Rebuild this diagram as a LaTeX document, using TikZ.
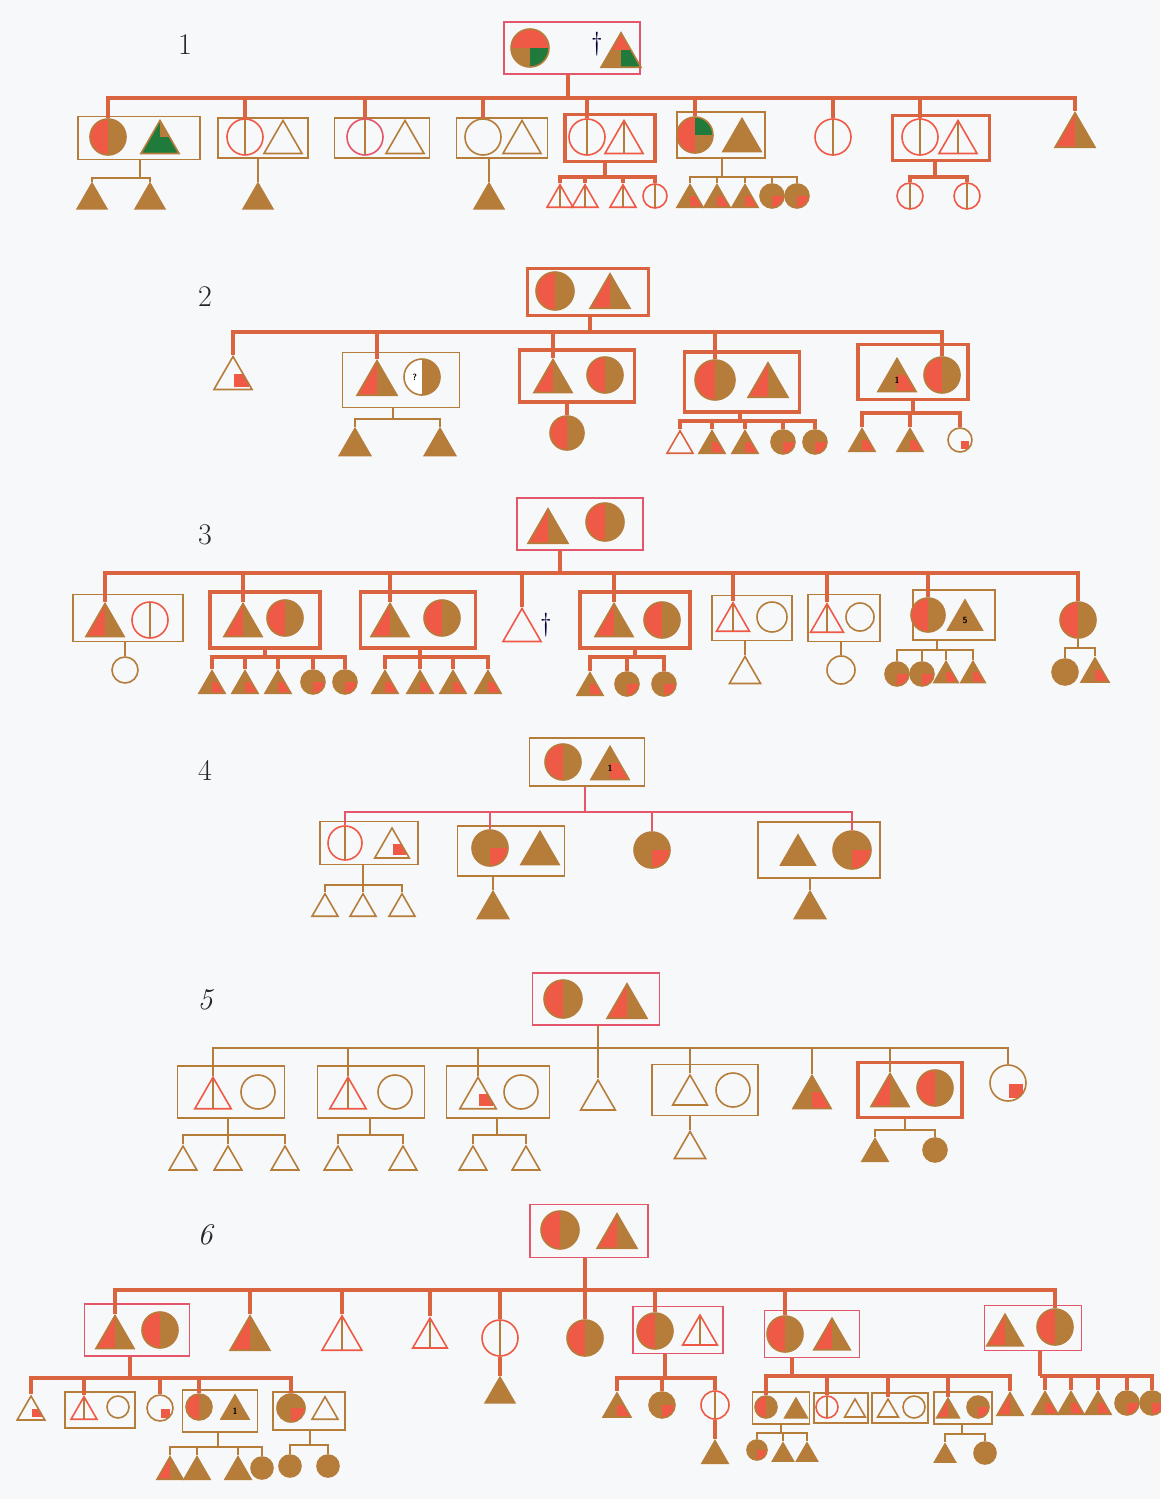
\documentclass[tikz,border=0pt]{standalone}
\usepackage{tikz}
\usetikzlibrary{
	shapes.geometric,           % For triangles (regular polygon)
	calc
}
\definecolor{cred}{HTML}{EF5A46}
\definecolor{cbrn}{HTML}{B67D3A}
\definecolor{cgrn}{HTML}{1F7A3C}
\definecolor{cln}{HTML}{D9643F}
\definecolor{cpnk}{HTML}{E4566A}
\definecolor{cbg}{HTML}{F7F8FA}

\tikzset{
	per/.style={inner sep=0pt, line width=1.6pt, draw=cbrn, text=black,
		font=\sffamily\bfseries\fontsize{9}{9}\selectfont},
	fem/.style={per, circle, minimum size=#1},
	fem/.default=36,
	mal/.style={per, regular polygon, regular polygon sides=3, minimum size=#1, yshift=-#1/8},
	mal/.default=44,
	quad/.style n args={4}{path picture={
			\fill[#1] (path picture bounding box.north west) rectangle (path picture bounding box.center);
			\fill[#2] (path picture bounding box.north east) rectangle (path picture bounding box.center);
			\fill[#3] (path picture bounding box.south west) rectangle (path picture bounding box.center);
			\fill[#4] (path picture bounding box.south east) rectangle (path picture bounding box.center);}},
	rb/.style={quad={cred}{cbrn}{cred}{cbrn}},
	br/.style={quad={cbrn}{cbrn}{cbrn}{cred}},
	bn/.style={fill=cbrn},
	ol/.style={draw=cred, path picture={
			\draw[cbrn, line width=1.4pt] (path picture bounding box.north) -- (path picture bounding box.south);}},
	oq/.style={path picture={
			\fill[cred] ([xshift=1pt,yshift=-1pt]path picture bounding box.center) rectangle ([xshift=-3pt,yshift=3pt]path picture bounding box.south east);}},
	bx/.style 2 args={rectangle, minimum width=#1, minimum height=#2, inner sep=0pt},
	rbox/.style={draw=cln, line width=3.5pt},
	tbox/.style={draw=cpnk, line width=1.8pt},
	bbox/.style={draw=cbrn, line width=1.8pt},
	tl/.style={draw=cln, line width=3.5pt},
	nl/.style={draw=cbrn, line width=1.6pt},
	pl/.style={draw=cpnk, line width=1.6pt},
	lab/.style={font=\fontsize{30}{30}\selectfont, text=black!85},
	dag/.style={font=\fontsize{26}{26}\selectfont, text=black!80!blue}
}

% stem from a parent (box) down to the bar, then a drop to every child
\newcommand\sib[4]{%
	\draw[#1] (#2.south -| #3) -- (#3);
	\foreach \kk in {#4} \draw[#1] (#3) -| (\kk.north);
}

\begin{document}
\begin{tikzpicture}[x=1pt, y=-1pt]
	\useasboundingbox (0,0) rectangle (1160,1499);
	\fill[cbg] (0,0) rectangle (1160,1499);
	
	% Family 1
	\node[lab] (n1) at (185,45) {1};
	\node[tbox, bx={136}{52}] (P1) at (572,48) {};
	\node[fem=38, quad={cred}{cred}{cbrn}{cgrn}] (p1m) at (530,48) {};
	\node[dag] (x1) at (597,44) {\textdagger};
	\node[mal=46, quad={cred}{cred}{cbrn}{cgrn}] (p1f) at (621,50) {};
	\coordinate (b1) at (568,98);
	
	\node[bbox, bx={122}{43}] (B11) at (139,138) {};
	\node[fem, rb] (k11) at (108,137) {};
	\node[mal, quad={cgrn}{cbrn}{cgrn}{cgrn}] (s11) at (160,137) {};
	\node[bbox, bx={90}{40}] (B12) at (263,138) {};
	\node[fem, ol] (k12) at (245,137) {};
	\node[mal] (s12) at (283,137) {};
	\node[bbox, bx={95}{40}] (B13) at (382,138) {};
	\node[fem, ol, draw=cpnk] (k13) at (365,137) {};
	\node[mal] (s13) at (405,137) {};
	\node[bbox, bx={91}{40}] (B14) at (502,138) {};
	\node[fem] (k14) at (483,137) {};
	\node[mal] (s14) at (522,137) {};
	\node[rbox, bx={90}{47}] (B15) at (610,138) {};
	\node[fem, ol] (k15) at (587,137) {};
	\node[mal, ol] (s15) at (624,137) {};
	\node[bbox, bx={88}{46}] (B16) at (721,135) {};
	\node[fem, quad={cred}{cgrn}{cred}{cbrn}] (k16) at (695,135) {};
	\node[mal, bn] (s16) at (742,135) {};
	\node[fem, ol] (k17) at (833,137) {};
	\node[rbox, bx={97}{45}] (B18) at (941,138) {};
	\node[fem, ol] (k18) at (920,137) {};
	\node[mal, ol] (s18) at (958,137) {};
	\node[mal=46, rb] (k19) at (1075,130) {};
	\sib{tl}{P1}{b1}{k11,k12,k13,k14,k15,k16,k17,k18,k19}
	
	\coordinate (b11) at (140,178);
	\node[mal=34, bn] (g11-1) at (92,196) {};
	\node[mal=34, bn] (g11-2) at (150,196) {};
	\sib{nl}{B11}{b11}{g11-1,g11-2}
	\node[mal=34, bn] (g12) at (258,196) {};
	\draw[nl] (B12.south -| g12.north) -- (g12.north);
	\node[mal=34, bn] (g14) at (489,196) {};
	\draw[nl] (B14.south -| g14.north) -- (g14.north);
	\coordinate (b15) at (605,177);
	\node[mal=30, ol] (g15-1) at (560,196) {};
	\node[mal=30, ol] (g15-2) at (585,196) {};
	\node[mal=30, ol] (g15-3) at (623,196) {};
	\node[fem=24, ol] (g15-4) at (655,196) {};
	\sib{tl}{B15}{b15}{g15-1,g15-2,g15-3,g15-4}
	\coordinate (b16) at (722,177);
	\node[mal=30, br] (g16-1) at (690,196) {};
	\node[mal=30, br] (g16-2) at (717,196) {};
	\node[mal=30, br] (g16-3) at (745,196) {};
	\node[fem=24, br] (g16-4) at (772,196) {};
	\node[fem=24, br] (g16-5) at (797,196) {};
	\sib{nl}{B16}{b16}{g16-1,g16-2,g16-3,g16-4,g16-5}
	\coordinate (b18) at (935,177);
	\node[fem=26, ol] (g18-1) at (910,196) {};
	\node[fem=26, ol] (g18-2) at (967,196) {};
	\sib{tl}{B18}{b18}{g18-1,g18-2}
	
	% Family 2
	\node[lab] (n2) at (205,297) {2};
	\node[rbox, bx={121}{47}] (P2) at (588,292) {};
	\node[fem=38, rb] (p2m) at (555,291) {};
	\node[mal=46, rb] (p2f) at (610,291) {};
	\coordinate (b2) at (590,332);
	
	\node[mal, oq] (k21) at (233,373) {};
	\node[bbox, bx={117}{55}] (B22) at (401,380) {};
	\node[mal=46, rb] (k22) at (377,378) {};
	\node[fem, quad={white}{cbrn}{white}{cbrn}] (s22) at (422,377) {\makebox[0pt][r]{?\hspace{5pt}}};
	\node[rbox, bx={115}{52}] (B23) at (577,376) {};
	\node[mal, rb] (k23) at (553,376) {};
	\node[fem, rb] (s23) at (605,375) {};
	\node[rbox, bx={115}{60}] (B24) at (742,382) {};
	\node[fem=40, rb] (k24) at (715,380) {};
	\node[mal=46, rb] (s24) at (768,380) {};
	\node[rbox, bx={110}{55}] (B25) at (913,372) {};
	\node[mal, br] (s25) at (897,375) {1};
	\node[fem, rb] (k25) at (942,375) {};
	\sib{tl}{P2}{b2}{k21,k22,k23,k24,k25}
	
	\coordinate (b22) at (393,419);
	\node[mal=36, bn] (g22-1) at (355,442) {};
	\node[mal=36, bn] (g22-2) at (440,442) {};
	\sib{nl}{B22}{b22}{g22-1,g22-2}
	\node[fem=34, rb] (g23) at (567,433) {};
	\draw[tl] (B23.south -| g23.north) -- (g23.north);
	\coordinate (b24) at (740,421);
	\node[mal=30, draw=cln] (g24-1) at (680,442) {};
	\node[mal=30, br] (g24-2) at (712,442) {};
	\node[mal=30, br] (g24-3) at (745,442) {};
	\node[fem=24, br] (g24-4) at (783,442) {};
	\node[fem=24, br] (g24-5) at (815,442) {};
	\sib{tl}{B24}{b24}{g24-1,g24-2,g24-3,g24-4,g24-5}
	\coordinate (b25) at (913,413);
	\node[mal=30, br] (g25-1) at (862,440) {};
	\node[mal=30, br] (g25-2) at (910,440) {};
	\node[fem=24, oq] (g25-3) at (960,440) {};
	\sib{tl}{B25}{b25}{g25-1,g25-2,g25-3}
	
	% Family 3
	\node[lab] (n3) at (205,535) {3};
	\node[tbox, bx={126}{52}] (P3) at (580,524) {};
	\node[mal=46, rb] (p3f) at (548,526) {};
	\node[fem=38, rb] (p3m) at (605,522) {};
	\coordinate (b3) at (560,573);
	
	\node[bbox, bx={110}{47}] (B31) at (128,618) {};
	\node[mal, rb] (k31) at (105,620) {};
	\node[fem, ol] (s31) at (150,620) {};
	\node[rbox, bx={110}{56}] (B32) at (265,620) {};
	\node[mal, rb] (k32) at (243,620) {};
	\node[fem, rb] (s32) at (285,618) {};
	\node[rbox, bx={115}{56}] (B33) at (418,620) {};
	\node[mal, rb] (k33) at (390,620) {};
	\node[fem, rb] (s33) at (442,618) {};
	\node[mal, draw=cred] (k34) at (522,625) {};
	\node[dag] (x3) at (546,625) {\textdagger};
	\node[rbox, bx={110}{56}] (B35) at (635,620) {};
	\node[mal, rb] (k35) at (614,620) {};
	\node[fem, rb] (s35) at (662,620) {};
	\node[bbox, bx={80}{45}] (B36) at (752,618) {};
	\node[mal=38, ol] (k36) at (733,617) {};
	\node[fem=30] (s36) at (772,617) {};
	\node[bbox, bx={72}{47}] (B37) at (844,618) {};
	\node[mal=38, ol] (k37) at (827,618) {};
	\node[fem=28] (s37) at (860,617) {};
	\node[bbox, bx={82}{50}] (B38) at (954,615) {};
	\node[fem=34, rb] (k38) at (928,615) {};
	\node[mal=40, bn] (s38) at (965,615) {5};
	\node[fem, rb] (k39) at (1078,620) {};
	\sib{tl}{P3}{b3}{k31,k32,k33,k34,k35,k36,k37,k38,k39}
	
	\node[fem=26] (g31) at (125,670) {};
	\draw[nl] (B31.south -| g31.north) -- (g31.north);
	\coordinate (b32) at (265,657);
	\node[mal=30, br] (g32-1) at (212,682) {};
	\node[mal=30, br] (g32-2) at (245,682) {};
	\node[mal=30, br] (g32-3) at (278,682) {};
	\node[fem=24, br] (g32-4) at (313,682) {};
	\node[fem=24, br] (g32-5) at (345,682) {};
	\sib{tl}{B32}{b32}{g32-1,g32-2,g32-3,g32-4,g32-5}
	\coordinate (b33) at (420,657);
	\node[mal=30, br] (g33-1) at (385,682) {};
	\node[mal=30, br] (g33-2) at (420,682) {};
	\node[mal=30, br] (g33-3) at (453,682) {};
	\node[mal=30, br] (g33-4) at (488,682) {};
	\sib{tl}{B33}{b33}{g33-1,g33-2,g33-3,g33-4}
	\coordinate (b35) at (635,657);
	\node[mal=30, br] (g35-1) at (590,684) {};
	\node[fem=24, br] (g35-2) at (627,684) {};
	\node[fem=24, br] (g35-3) at (664,684) {};
	\sib{tl}{B35}{b35}{g35-1,g35-2,g35-3}
	\node[mal=36] (g36) at (745,670) {};
	\draw[nl] (B36.south -| g36.north) -- (g36.north);
	\node[fem=28] (g37) at (841,670) {};
	\draw[nl] (B37.south -| g37.north) -- (g37.north);
	\coordinate (b38) at (937,650);
	\node[fem=24, br] (g38-1) at (897,674) {};
	\node[fem=24, br] (g38-2) at (922,674) {};
	\node[mal=28, br] (g38-3) at (946,672) {};
	\node[mal=28, br] (g38-4) at (973,672) {};
	\sib{nl}{B38}{b38}{g38-1,g38-2,g38-3,g38-4}
	\coordinate (b39) at (1078,648);
	\node[fem=26, bn] (g39-1) at (1065,672) {};
	\node[mal=32, br] (g39-2) at (1095,670) {};
	\sib{nl}{k39}{b39}{g39-1,g39-2}
	
	% Family 4
	\node[lab] (n4) at (205,770) {4};
	\node[bbox, bx={115}{48}] (P4) at (587,762) {};
	\node[fem, rb] (p4m) at (563,762) {};
	\node[mal, br] (p4f) at (610,763) {1};
	\coordinate (b4) at (585,812);
	
	\node[bbox, bx={98}{43}] (B41) at (369,843) {};
	\node[fem=34, ol] (k41) at (345,843) {};
	\node[mal=40, oq] (s41) at (392,843) {};
	\node[bbox, bx={107}{50}] (B42) at (511,851) {};
	\node[fem, br] (k42) at (490,848) {};
	\node[mal, bn] (s42) at (540,848) {};
	\node[fem, br] (k43) at (652,850) {};
	\node[bbox, bx={122}{56}] (B44) at (819,850) {};
	\node[mal=40, bn] (s44) at (798,850) {};
	\node[fem=38, br] (k44) at (852,850) {};
	\sib{pl}{P4}{b4}{k41,k42,k43,k44}
	
	\coordinate (b41) at (363,885);
	\node[mal=30] (g41-1) at (325,905) {};
	\node[mal=30] (g41-2) at (363,905) {};
	\node[mal=30] (g41-3) at (402,905) {};
	\sib{nl}{B41}{b41}{g41-1,g41-2,g41-3}
	\node[mal=36, bn] (g42) at (493,905) {};
	\draw[nl] (B42.south -| g42.north) -- (g42.north);
	\node[mal=36, bn] (g44) at (810,905) {};
	\draw[nl] (B44.south -| g44.north) -- (g44.north);
	
	% Family 5
	\node[lab, font=\fontsize{30}{30}\selectfont\itshape] (n5) at (205,1000) {5};
	\node[tbox, bx={127}{52}] (P5) at (596,999) {};
	\node[fem=38, rb] (p5m) at (563,999) {};
	\node[mal=46, rb] (p5f) at (627,1001) {};
	\coordinate (b5) at (598,1048);
	
	\node[bbox, bx={107}{52}] (B51) at (231,1092) {};
	\node[mal=42, ol] (k51) at (213,1093) {};
	\node[fem=34] (s51) at (258,1092) {};
	\node[bbox, bx={107}{52}] (B52) at (371,1092) {};
	\node[mal=42, ol] (k52) at (348,1093) {};
	\node[fem=34] (s52) at (395,1092) {};
	\node[bbox, bx={103}{52}] (B53) at (498,1092) {};
	\node[mal=42, oq] (k53) at (478,1093) {};
	\node[fem=34] (s53) at (521,1092) {};
	\node[mal=40] (k54) at (598,1095) {};
	\node[bbox, bx={106}{51}] (B55) at (705,1090) {};
	\node[mal=40] (k55) at (690,1090) {};
	\node[fem=34] (s55) at (733,1090) {};
	\node[mal, br] (k56) at (812,1092) {};
	\node[rbox, bx={104}{55}] (B57) at (910,1090) {};
	\node[mal, rb] (k57) at (890,1090) {};
	\node[fem, rb] (s57) at (935,1088) {};
	\node[fem, oq] (k58) at (1008,1083) {};
	\sib{nl}{P5}{b5}{k51,k52,k53,k54,k55,k56,k57,k58}
	
	\coordinate (b51) at (228,1135);
	\node[mal=32] (g51-1) at (183,1158) {};
	\node[mal=32] (g51-2) at (228,1158) {};
	\node[mal=32] (g51-3) at (285,1158) {};
	\sib{nl}{B51}{b51}{g51-1,g51-2,g51-3}
	\coordinate (b52) at (370,1135);
	\node[mal=32] (g52-1) at (338,1158) {};
	\node[mal=32] (g52-2) at (403,1158) {};
	\sib{nl}{B52}{b52}{g52-1,g52-2}
	\coordinate (b53) at (497,1135);
	\node[mal=32] (g53-1) at (473,1158) {};
	\node[mal=32] (g53-2) at (526,1158) {};
	\sib{nl}{B53}{b53}{g53-1,g53-2}
	\node[mal=36] (g55) at (690,1145) {};
	\draw[nl] (B55.south -| g55.north) -- (g55.north);
	\coordinate (b57) at (905,1130);
	\node[mal=30, bn] (g57-1) at (875,1150) {};
	\node[fem=24, bn] (g57-2) at (935,1150) {};
	\sib{nl}{B57}{b57}{g57-1,g57-2}
	
	% Family 6
	\node[lab, font=\fontsize{30}{30}\selectfont\itshape] (n6) at (205,1235) {6};
	\node[tbox, bx={118}{53}] (P6) at (589,1231) {};
	\node[fem=38, rb] (p6m) at (560,1230) {};
	\node[mal=46, rb] (p6f) at (617,1231) {};
	\coordinate (b6) at (585,1290);
	
	\node[tbox, bx={105}{52}] (B61) at (137,1330) {};
	\node[mal, rb] (k61) at (115,1332) {};
	\node[fem, rb] (s61) at (160,1330) {};
	\node[mal=46, rb] (k62) at (250,1333) {};
	\node[mal=46, ol] (k63) at (342,1333) {};
	\node[mal=40, ol] (k64) at (430,1333) {};
	\node[fem, ol] (k65) at (500,1338) {};
	\node[fem, rb] (k66) at (585,1338) {};
	\node[tbox, bx={90}{47}] (B67) at (678,1330) {};
	\node[fem, rb] (k67) at (655,1331) {};
	\node[mal=40, ol] (s67) at (700,1330) {};
	\node[tbox, bx={95}{47}] (B68) at (812,1334) {};
	\node[fem, rb] (k68) at (785,1334) {};
	\node[mal=42, rb] (s68) at (832,1334) {};
	\node[tbox, bx={97}{45}] (B69) at (1033,1328) {};
	\node[mal=42, rb] (s69) at (1005,1330) {};
	\node[fem, rb] (k69) at (1055,1327) {};
	\sib{tl}{P6}{b6}{k61,k62,k63,k64,k65,k66,k67,k68,k69}
	
	% children of the first couple
	\coordinate (b61) at (130,1378);
	\node[mal=32, oq] (g61-1) at (31,1408) {};
	\node[bbox, bx={70}{36}] (C62) at (100,1410) {};
	\node[mal=30, ol] (g61-2) at (84,1408) {};
	\node[fem=22] (h61-2) at (118,1407) {};
	\node[fem=26, oq] (g61-3) at (160,1408) {};
	\node[bbox, bx={75}{42}] (C64) at (220,1411) {};
	\node[fem=26, rb] (g61-4) at (199,1407) {};
	\node[mal=32, bn] (h61-4) at (235,1407) {1};
	\node[bbox, bx={72}{38}] (C65) at (309,1411) {};
	\node[fem=28, br] (g61-5) at (291,1408) {};
	\node[mal=30] (h61-5) at (325,1408) {};
	\sib{tl}{B61}{b61}{g61-1,g61-2,g61-3,g61-4,g61-5}
	\coordinate (b64) at (218,1447);
	\node[mal=30, rb] (e64-1) at (170,1468) {};
	\node[mal=30, bn] (e64-2) at (197,1468) {};
	\node[mal=30, bn] (e64-3) at (238,1468) {};
	\node[fem=22, bn] (e64-4) at (262,1468) {};
	\sib{nl}{C64}{b64}{e64-1,e64-2,e64-3,e64-4}
	\coordinate (b65) at (310,1445);
	\node[fem=22, bn] (e65-1) at (290,1466) {};
	\node[fem=22, bn] (e65-2) at (328,1466) {};
	\sib{nl}{C65}{b65}{e65-1,e65-2}
	
	\node[mal=34, bn] (g65) at (500,1390) {};
	\draw[tl] (k65.south) -- (g65.north);
	
	\coordinate (b67) at (665,1378);
	\node[mal=32, br] (g67-1) at (617,1405) {};
	\node[fem=26, br] (g67-2) at (662,1405) {};
	\node[fem=28, ol] (g67-3) at (715,1405) {};
	\sib{tl}{B67}{b67}{g67-1,g67-2,g67-3}
	\node[mal=30, bn] (e67) at (715,1452) {};
	\draw[tl] (g67-3.south) -- (e67.north);
	
	\coordinate (b68) at (792,1376);
	\node[bbox, bx={57}{32}] (C81) at (781,1408) {};
	\node[fem=22, rb] (g68-1) at (766,1407) {};
	\node[mal=26, bn] (h68-1) at (796,1408) {};
	\node[bbox, bx={54}{30}] (C82) at (841,1408) {};
	\node[fem=22, ol] (g68-2) at (827,1407) {};
	\node[mal=24] (h68-2) at (855,1408) {};
	\node[bbox, bx={56}{30}] (C83) at (900,1408) {};
	\node[mal=24] (g68-3) at (888,1408) {};
	\node[fem=22] (h68-3) at (914,1407) {};
	\node[bbox, bx={58}{32}] (C84) at (963,1408) {};
	\node[mal=26, rb] (g68-4) at (948,1408) {};
	\node[fem=22, br] (h68-4) at (978,1407) {};
	\node[mal=30, rb] (g68-5) at (1010,1404) {};
	\sib{tl}{B68}{b68}{g68-1,g68-2,g68-3,g68-4,g68-5}
	\coordinate (b81) at (781,1433);
	\node[fem=20, br] (e81-1) at (757,1450) {};
	\node[mal=24, bn] (e81-2) at (783,1452) {};
	\node[mal=24, bn] (e81-3) at (807,1452) {};
	\sib{nl}{C81}{b81}{e81-1,e81-2,e81-3}
	\coordinate (b84) at (962,1434);
	\node[mal=24, bn] (e84-1) at (945,1453) {};
	\node[fem=22, bn] (e84-2) at (985,1453) {};
	\sib{nl}{C84}{b84}{e84-1,e84-2}
	
	\coordinate (b69) at (1040,1376);
	\node[mal=30, br] (g69-1) at (1045,1403) {};
	\node[mal=30, br] (g69-2) at (1071,1403) {};
	\node[mal=30, br] (g69-3) at (1098,1403) {};
	\node[fem=24, br] (g69-4) at (1127,1403) {};
	\node[fem=24, br] (g69-5) at (1152,1403) {};
	\sib{tl}{B69}{b69}{g69-1,g69-2,g69-3,g69-4,g69-5}
\end{tikzpicture}
\end{document}
